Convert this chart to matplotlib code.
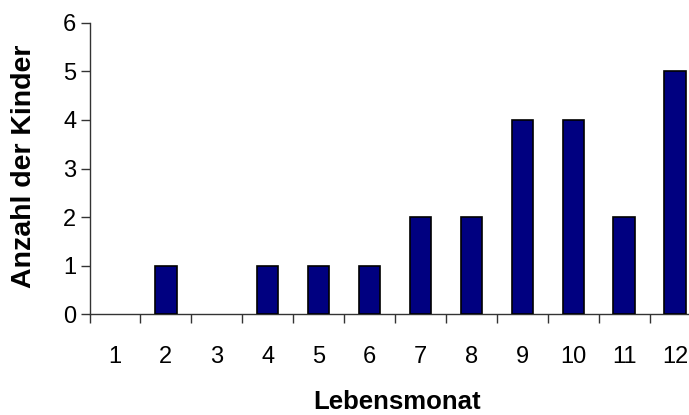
import matplotlib.pyplot as plt
import numpy as np

plt.rcParams["font.family"] = ["Liberation Sans", "DejaVu Sans"]

# Kinder je Lebensmonat
months = ["1", "2", "3", "4", "5", "6", "7", "8", "9", "10", "11", "12"]
counts = [0, 1, 0, 1, 1, 1, 2, 2, 4, 4, 2, 5]

W, H = 689, 415
fig = plt.figure(figsize=(W / 100, H / 100), dpi=100)

# plot area runs slightly past the right edge of the figure
x0, x1 = 89.5, 700.5
y0, y1 = 314.3, 22.7
ax = fig.add_axes([x0 / W, (H - y0) / H, (x1 - x0) / W, (y0 - y1) / H])

x = np.arange(len(months))
# no outline for empty months
edges = ["black" if c > 0 else "none" for c in counts]
ax.bar(x, counts, width=0.42, color="#000080", edgecolor=edges, linewidth=1.2, zorder=3)

ax.set_xlim(-0.5, len(months) - 0.5)
ax.set_ylim(0, 6)
ax.set_yticks(range(0, 7))

# category boundaries as tick marks, labels centred between them
ax.set_xticks(np.arange(-0.5, len(months) - 0.5 + 0.01, 1.0))
ax.set_xticklabels([])
ax.set_xticks(x, minor=True)
ax.set_xticklabels(months, minor=True)
ax.tick_params(axis="x", which="major", direction="out", length=6.5, width=1, color="#333333")
ax.tick_params(axis="x", which="minor", length=0, pad=23, labelsize=17)
ax.tick_params(axis="y", direction="out", length=6.5, width=1, color="#333333", labelsize=17, pad=3)

for side in ("top", "right"):
    ax.spines[side].set_visible(False)
for side in ("left", "bottom"):
    ax.spines[side].set_color("#333333")
    ax.spines[side].set_linewidth(1)

fig.text(24 / W, 1 - 166 / H, "Anzahl der Kinder", fontsize=20.5, fontweight="bold",
         rotation=90, ha="center", va="center")
fig.text(397 / W, 1 - 402 / H, "Lebensmonat", fontsize=18.5, fontweight="bold",
         ha="center", va="center")

fig.savefig("out.png", dpi=100)
